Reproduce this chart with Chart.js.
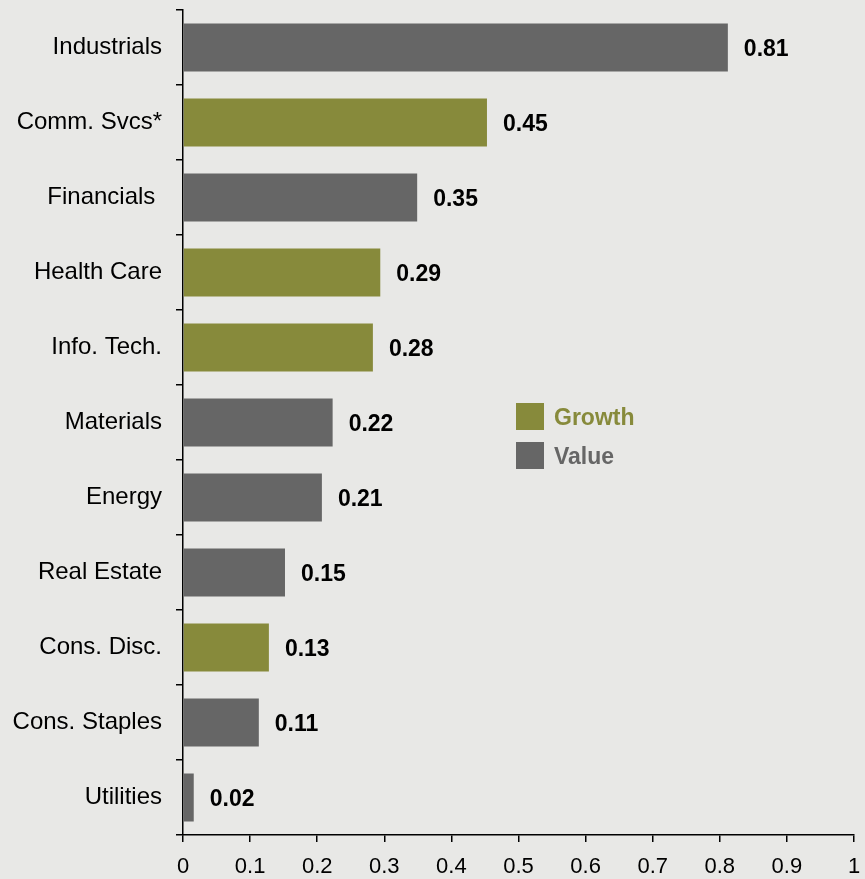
<!DOCTYPE html>
<html>
<head>
<meta charset="utf-8">
<script src="https://cdn.jsdelivr.net/npm/chart.js@4"></script>
<style>
  html, body { margin: 0; padding: 0; background: #e8e8e6; }
  canvas { display: block; }
</style>
</head>
<body>
<canvas id="sector-chart" width="865" height="879"></canvas>
<script>
// Sector data
const sectors = ["Industrials", "Comm. Svcs*", "Financials ", "Health Care", "Info. Tech.", "Materials", "Energy", "Real Estate", "Cons. Disc.", "Cons. Staples", "Utilities"];
const values = [0.812, 0.453, 0.349, 0.294, 0.283, 0.223, 0.207, 0.152, 0.128, 0.113, 0.016];
const styles = ["Value", "Growth", "Value", "Growth", "Growth", "Value", "Value", "Value", "Growth", "Value", "Value"];
const xTicks = [0, 0.1, 0.2, 0.3, 0.4, 0.5, 0.6, 0.7, 0.8, 0.9, 1];

const GROWTH = "#878a3b";
const VALUE = "#666666";
const fontFamily = "'Liberation Sans', Arial, sans-serif";

function colorFor(style) {
  return style === "Growth" ? GROWTH : VALUE;
}

// Value labels at the end of each bar
const barLabels = {
  id: "barLabels",
  afterDatasetsDraw(chart) {
    const ctx = chart.ctx;
    const meta = chart.getDatasetMeta(0);
    ctx.save();
    ctx.font = "bold 23px " + fontFamily;
    ctx.fillStyle = "#000";
    ctx.textAlign = "left";
    ctx.textBaseline = "middle";
    meta.data.forEach((bar, i) => {
      ctx.fillText(values[i].toFixed(2), bar.x + 16, bar.y + 2);
    });
    ctx.restore();
  },
};

// Legend inside the plot
const sideLegend = {
  id: "sideLegend",
  afterDraw(chart) {
    const ctx = chart.ctx;
    const items = [
      { text: "Growth", color: GROWTH },
      { text: "Value", color: VALUE },
    ];
    ctx.save();
    ctx.font = "bold 23px " + fontFamily;
    ctx.textBaseline = "middle";
    items.forEach((item, i) => {
      const y = 403 + i * 39;
      ctx.fillStyle = item.color;
      ctx.fillRect(516, y, 28, 27);
      ctx.fillText(item.text, 554, y + 16);
    });
    ctx.restore();
  },
};

const ctx = document.getElementById("sector-chart").getContext("2d");

new Chart(ctx, {
  type: "bar",
  data: {
    labels: sectors,
    datasets: [
      {
        label: "Sectors",
        data: values,
        backgroundColor: styles.map(colorFor),
        borderWidth: 0,
        barPercentage: 0.8,
        categoryPercentage: 0.8,
      },
    ],
  },
  options: {
    indexAxis: "y",
    responsive: false,
    animation: false,
    layout: {
      padding: { top: 10, right: 11, left: 0, bottom: 0 },
    },
    plugins: {
      legend: { display: false },
      tooltip: { enabled: false },
    },
    scales: {
      x: {
        min: 0,
        max: 1,
        afterBuildTicks: (scale) => {
          scale.ticks = xTicks.map((v) => ({ value: v }));
        },
        afterFit: (scale) => {
          scale.height = 44;
          scale.paddingLeft = 0;
          scale.paddingRight = 0;
        },
        ticks: {
          color: "#000",
          font: { family: fontFamily, size: 22 },
          padding: 12,
          maxRotation: 0,
          callback: (v) => String(Math.round(v * 10) / 10),
        },
        grid: {
          drawOnChartArea: false,
          drawTicks: true,
          tickLength: 7,
          color: "#000",
          lineWidth: 1.5,
        },
        border: { color: "#000", width: 1.5 },
      },
      y: {
        afterFit: (scale) => {
          scale.width = 183;
          scale.paddingTop = 0;
          scale.paddingBottom = 0;
        },
        ticks: {
          color: "#000",
          font: { family: fontFamily, size: 24 },
          padding: 14,
        },
        grid: {
          offset: true,
          drawOnChartArea: false,
          drawTicks: true,
          tickLength: 7,
          color: "#000",
          lineWidth: 1.5,
        },
        border: { color: "#000", width: 1.5 },
      },
    },
  },
  plugins: [barLabels, sideLegend],
});
</script>
</body>
</html>
